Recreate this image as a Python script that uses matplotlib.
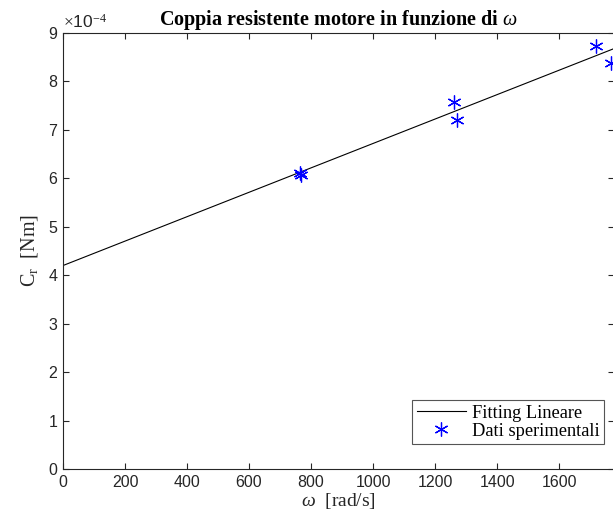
import numpy as np
import matplotlib.pyplot as plt
from matplotlib.ticker import FuncFormatter

omega = [763, 768, 1261, 1271, 1719, 1768]               # rad/s
coppia = [6.10e-4, 6.07e-4, 7.58e-4, 7.20e-4, 8.73e-4, 8.38e-4]  # Nm

# retta di fitting
fit_slope = 2.52e-7
fit_intercept = 4.20e-4
x_max = 1777

plt.rcParams['mathtext.fontset'] = 'custom'
plt.rcParams['mathtext.rm'] = 'Liberation Serif'
plt.rcParams['mathtext.it'] = 'Liberation Serif:italic'
plt.rcParams['mathtext.bf'] = 'Liberation Serif:bold'

fig = plt.figure(figsize=(6.13, 5.21), dpi=100)
ax = fig.add_axes([63 / 613, 52 / 521, 551 / 613, 436 / 521])

x_fit = np.array([0, x_max])
ax.plot(x_fit, fit_intercept + fit_slope * x_fit, color='black', linewidth=0.8,
        label='Fitting Lineare')
ax.plot(omega, coppia, linestyle='none', marker=(6, 2, 0), markersize=10,
        markeredgewidth=0.9, color='blue', label='Dati sperimentali',
        clip_on=False)

ax.set_xlim(0, x_max)
ax.set_ylim(0, 9e-4)
ax.set_xticks(np.arange(0, 1700, 200))
ax.set_yticks(np.arange(0, 10) * 1e-4)
ax.yaxis.set_major_formatter(FuncFormatter(lambda v, p: f'{v / 1e-4:.0f}'))

grey = '#262626'
for s in ax.spines.values():
    s.set_color(grey)
    s.set_linewidth(0.8)
ax.tick_params(direction='in', top=True, right=True, length=4, width=0.8,
               color=grey, labelcolor=grey, labelsize=11.5, pad=4)
for lab in ax.get_xticklabels() + ax.get_yticklabels():
    lab.set_family(['Liberation Sans', 'DejaVu Sans'])

ax.text(0.0, 1.005, r'$\times$10$^{-4}$', transform=ax.transAxes,
        ha='left', va='bottom', fontsize=12.5, color=grey,
        family=['Liberation Sans', 'DejaVu Sans'])

ax.set_title(r'Coppia resistente motore in funzione di $\omega$',
             fontsize=14.5, fontweight='bold', family='Liberation Serif', pad=6)
ax.set_xlabel(r'$\omega$  [rad/s]', fontsize=14, family='Liberation Serif',
              color=grey, labelpad=1)
ax.set_ylabel(r'C$_\mathrm{r}$  [Nm]', fontsize=14.5, family='Liberation Serif',
              color=grey, labelpad=6)

leg = ax.legend(loc='lower right', bbox_to_anchor=(0.982, 0.057),
                borderaxespad=0, fancybox=False, framealpha=1,
                edgecolor='#555555', handlelength=2.7, handletextpad=0.3,
                borderpad=0.25, labelspacing=0.05,
                prop={'family': 'Liberation Serif', 'size': 13.2})
leg.get_frame().set_linewidth(0.8)

fig.savefig('out.png', dpi=100)
